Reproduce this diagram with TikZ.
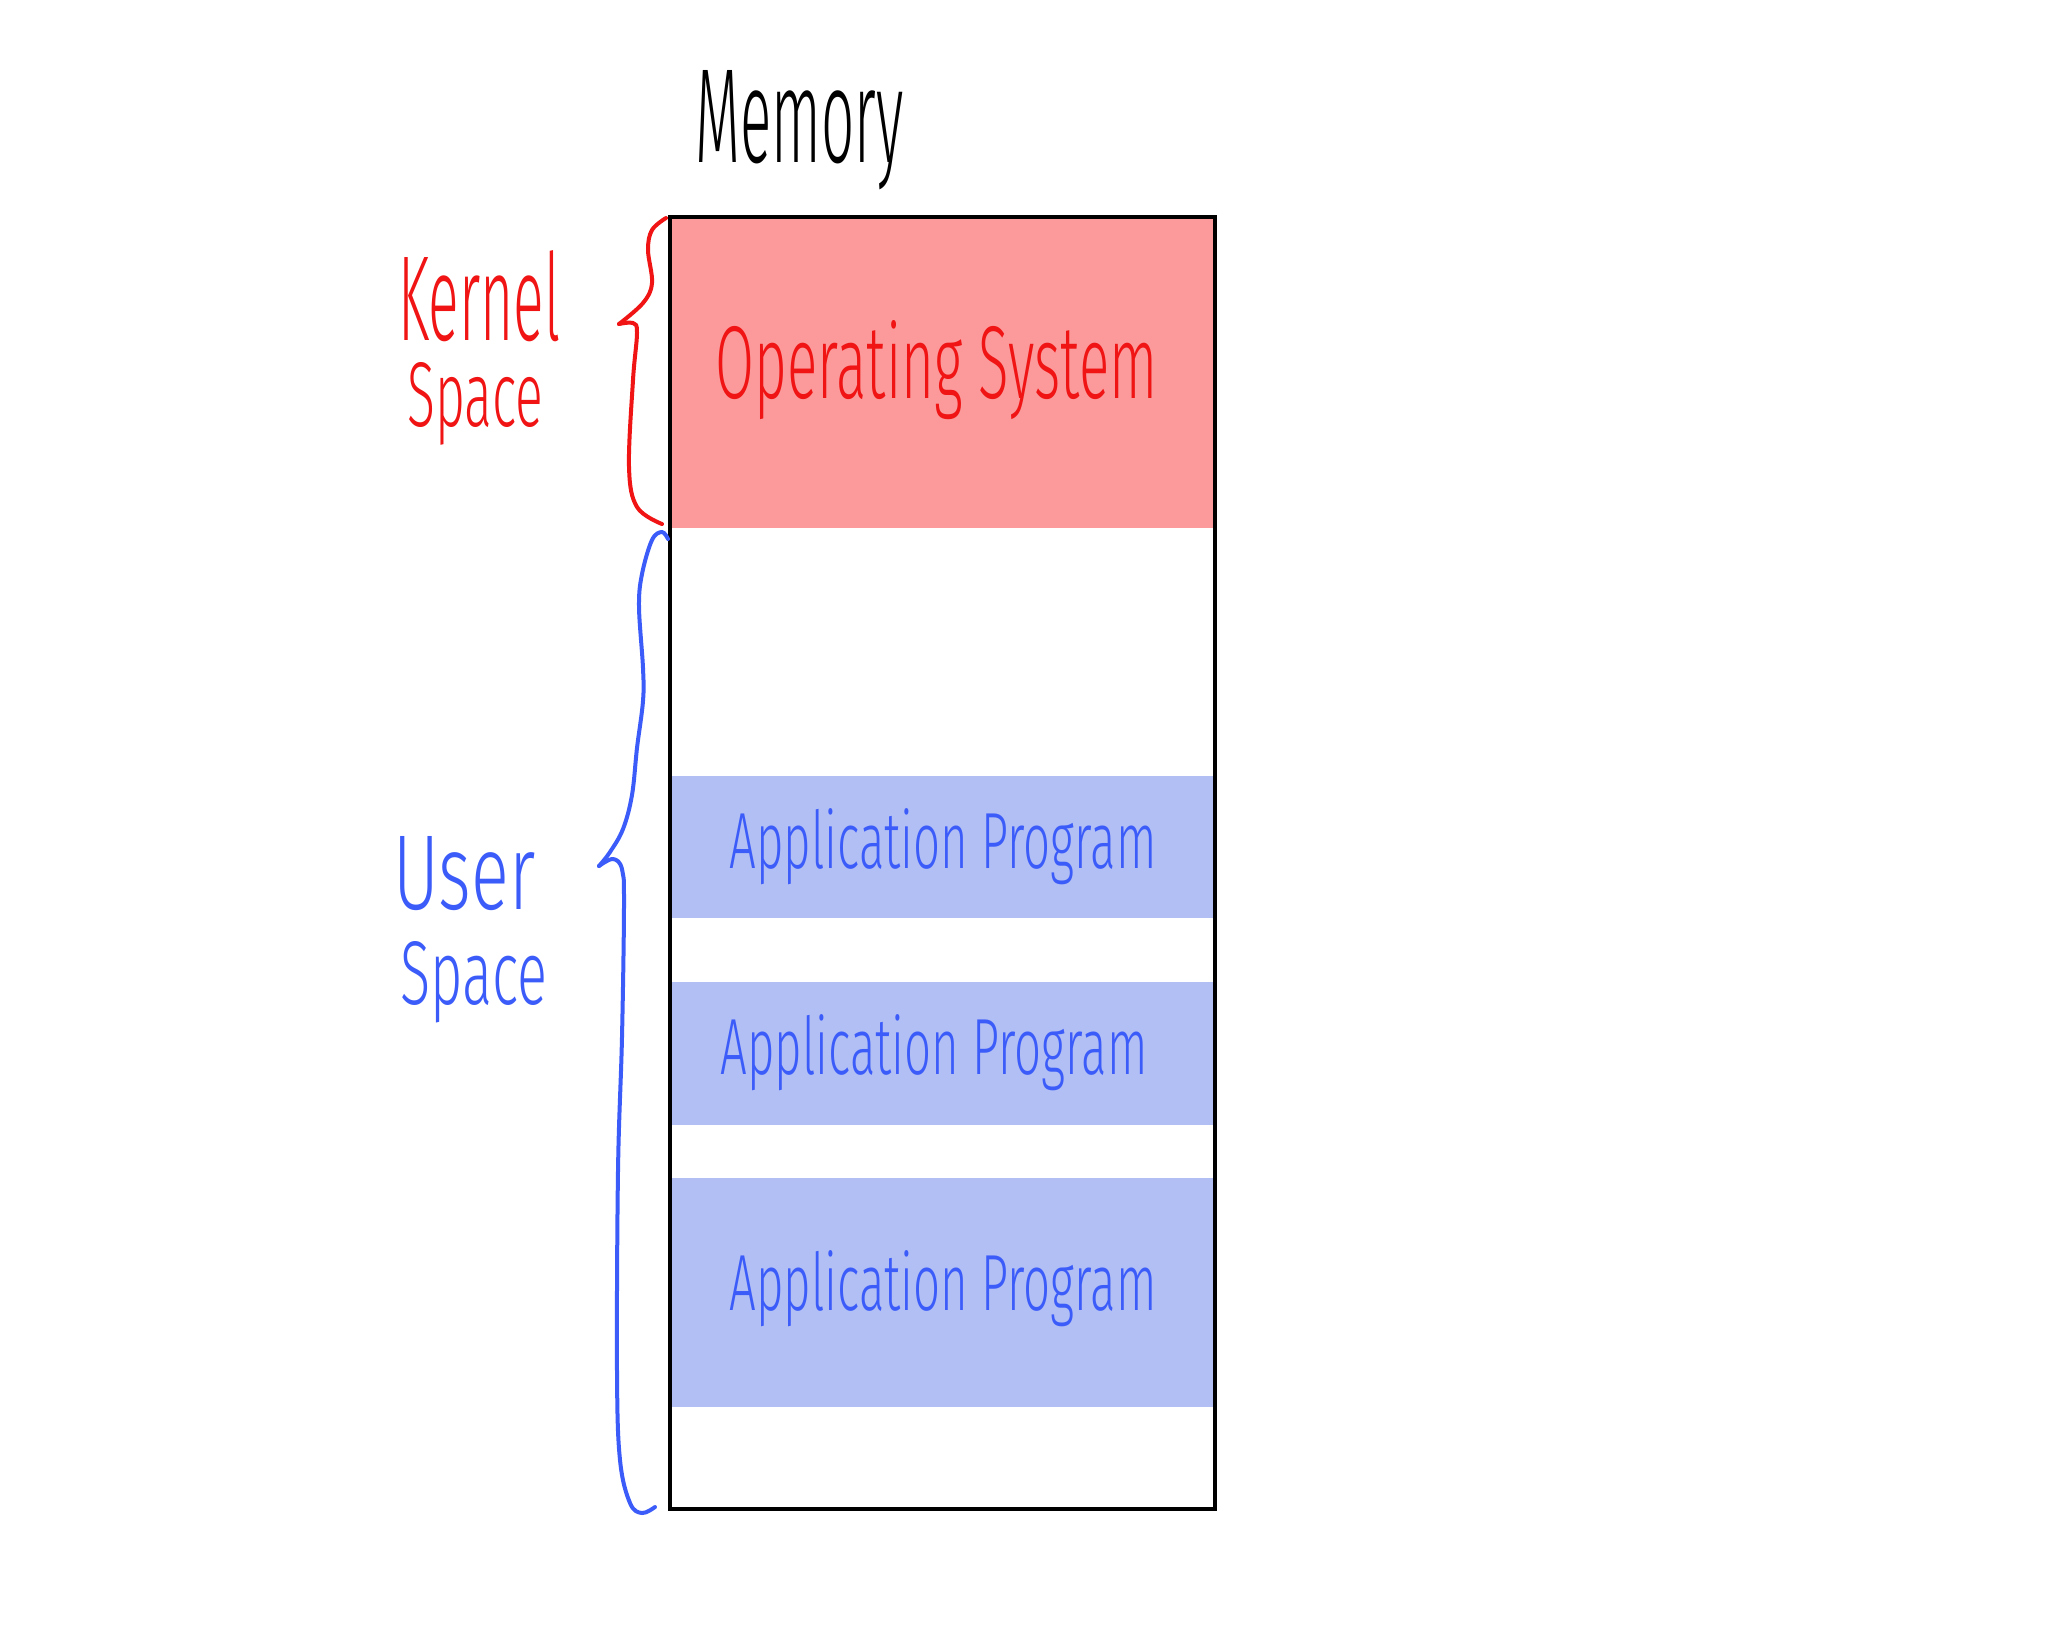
\documentclass[tikz,border=0pt]{standalone}
\usepackage{fontspec}
\setmainfont{Fira Sans}[UprightFont=* Light]
\usepackage{graphicx}
\definecolor{osfill}{RGB}{252,154,155}
\definecolor{appfill}{RGB}{177,191,244}
\definecolor{penred}{RGB}{240,20,20}
\definecolor{penblue}{RGB}{60,92,250}
\begin{document}
\begin{tikzpicture}[x=0.5pt,y=-0.5pt,
  lbl/.style={inner sep=0pt, anchor=base west},
  side/.style={inner sep=0pt, anchor=north west},
  pen/.style={line width=2pt, line cap=round, line join=round}]
\useasboundingbox (0,0) rectangle (2048,1624);
\fill[white] (0,0) rectangle (2048,1624);
% memory regions
\fill[osfill] (670,217) rectangle (1215,528);
\fill[appfill] (670,776) rectangle (1215,918);
\fill[appfill] (670,982) rectangle (1215,1125);
\fill[appfill] (670,1178) rectangle (1215,1407);
\draw[line width=1.7pt] (670,217) rectangle (1215,1509);
% labels
\node[lbl, text=black] (mem) at (695,162) {\resizebox{104pt}{46pt}{Memory}};
\node[side, text=penred] (kern) at (398,250) {\vbox{\offinterlineskip
  \hbox{\resizebox{81pt}{45pt}{Kernel}}\kern10.5pt
  \hbox{\kern4.5pt\resizebox{68pt}{32pt}{Space}}}};
\node[lbl, text=penred] (os) at (715,398) {\resizebox{221pt}{39pt}{Operating System}};
\node[side, text=penblue] (user) at (393,836) {\vbox{\offinterlineskip
  \hbox{\resizebox{71pt}{36.5pt}{User}}\kern15.5pt
  \hbox{\kern3.5pt\resizebox{73.5pt}{31.5pt}{Space}}}};
\node[lbl, text=penblue] (app1) at (729,868) {\resizebox{213.5pt}{30pt}{Application Program}};
\node[lbl, text=penblue] (app2) at (720,1074) {\resizebox{213.5pt}{30pt}{Application Program}};
\node[lbl, text=penblue] (app3) at (729,1310) {\resizebox{213.5pt}{30pt}{Application Program}};
% red brace
\draw[pen, penred] plot[smooth, tension=0.6] coordinates {(666,218) (652,230) (648,250) (652,283) (643,303) (619,324)};
\draw[pen, penred] plot[smooth, tension=0.6] coordinates {(619,324) (633,323) (637,333) (633,380) (629,467) (637,507) (662,524)};
% blue brace
\draw[pen, penblue] plot[smooth, tension=0.6] coordinates {(668,539) (662,532) (652,540) (642,574) (639,607) (643,668) (643,701) (637,748) (632,795) (623,829) (610,852) (599,866)};
\draw[pen, penblue] plot[smooth, tension=0.6] coordinates {(599,866) (613,859) (622,869) (624,903) (622,1037) (618,1171) (617,1372) (620,1460) (630,1503) (642,1513) (655,1507)};
\end{tikzpicture}
\end{document}
